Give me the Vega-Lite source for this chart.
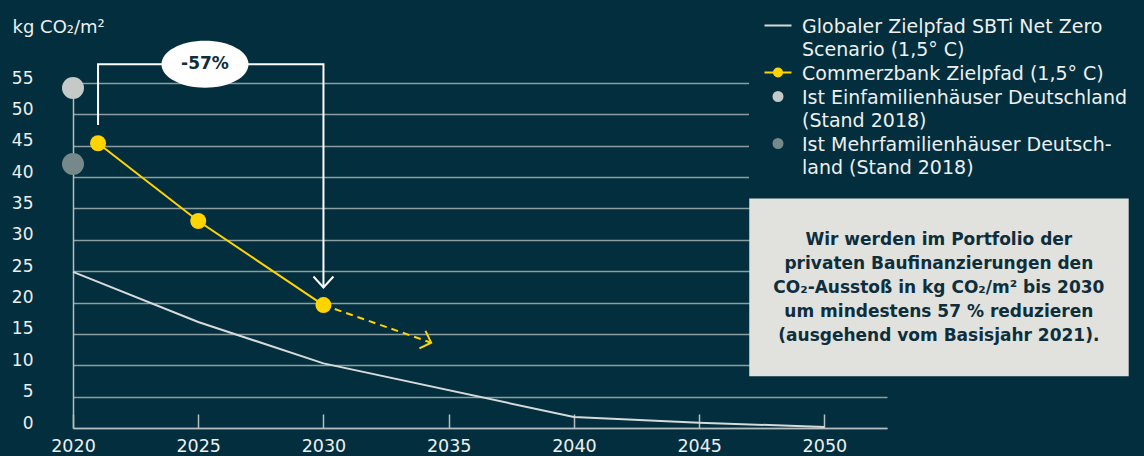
{
  "$schema": "https://vega.github.io/schema/vega-lite/v6.json",
  "width": 814,
  "height": 345,
  "autosize": {"type": "none"},
  "padding": {"left": 73, "top": 83, "right": 257, "bottom": 28},
  "background": "#022e3d",
  "config": {"font": "DejaVu Sans", "view": {"stroke": null}},
  "encoding": {
    "x": {
      "field": "year", "type": "quantitative",
      "scale": {"domain": [2020, 2052.5], "nice": false, "zero": false},
      "axis": {
        "title": null, "values": [2020, 2025, 2030, 2035, 2040, 2045, 2050], "format": "d",
        "grid": false, "domainColor": "#b5bec0", "domainWidth": 1.5,
        "tickColor": "#b5bec0", "tickSize": -14, "tickWidth": 1.5,
        "labelFont": "DejaVu Sans", "labelFontSize": 17.5, "labelColor": "#eef0f0", "labelPadding": 23,
        "labelFlush": false, "labelOverlap": false
      }
    },
    "y": {
      "field": "value", "type": "quantitative",
      "scale": {"domain": [0, 55], "nice": false, "zero": true},
      "axis": {
        "title": "kg CO₂/m²", "values": [0, 5, 10, 15, 20, 25, 30, 35, 40, 45, 50, 55],
        "grid": true, "gridColor": "#8d9ea2", "gridWidth": 1.5, "ticks": false,
        "domainColor": "#b5bec0", "domainWidth": 1.5,
        "labelFont": "DejaVu Sans", "labelBaseline": "alphabetic", "labelAlign": "right", "labelPadding": 40,
        "labelFontSize": 17, "labelColor": "#eef0f0", "labelFlush": false, "labelOverlap": false,
        "titleAngle": 0, "titleAlign": "left", "titleBaseline": "alphabetic",
        "titleX": -61, "titleY": -51, "titleFont": "DejaVu Sans", "titleFontSize": 18, "titleFontWeight": "normal",
        "titleColor": "#eef0f0"
      }
    }
  },
  "layer": [
    {
      "data": {"values": [
        {"serie": "Globaler Zielpfad SBTi Net Zero|Scenario (1,5° C)", "year": 2020, "value": 24.9},
        {"serie": "Globaler Zielpfad SBTi Net Zero|Scenario (1,5° C)", "year": 2025, "value": 16.9},
        {"serie": "Globaler Zielpfad SBTi Net Zero|Scenario (1,5° C)", "year": 2030, "value": 10.3},
        {"serie": "Globaler Zielpfad SBTi Net Zero|Scenario (1,5° C)", "year": 2040, "value": 1.75},
        {"serie": "Globaler Zielpfad SBTi Net Zero|Scenario (1,5° C)", "year": 2045, "value": 0.85},
        {"serie": "Globaler Zielpfad SBTi Net Zero|Scenario (1,5° C)", "year": 2050, "value": 0.15}
      ]},
      "mark": {"type": "line", "strokeWidth": 2},
      "encoding": {
        "color": {
          "field": "serie", "type": "nominal",
          "scale": {
            "domain": [
              "Globaler Zielpfad SBTi Net Zero|Scenario (1,5° C)",
              "Commerzbank Zielpfad (1,5° C)",
              "Ist Einfamilienhäuser Deutschland|(Stand 2018)",
              "Ist Mehrfamilienhäuser Deutsch-|land (Stand 2018)"
            ],
            "range": ["#d6dadb", "#ffd400", "#c5cac9", "#76898a"]
          },
          "legend": {
            "orient": "none", "legendX": 676, "legendY": -78,
            "title": null, "fillColor": "#022e3d", "padding": 11,
            "labelFont": "DejaVu Sans", "labelFontSize": 19, "labelColor": "#eef0f0",
            "labelLimit": 600, "labelExpr": "split(datum.label, '|')",
            "labelBaseline": "top", "labelOffset": 23,
            "symbolSize": 100, "rowPadding": 3,
            "encode": {
              "symbols": {"update": {
                "shape": {"signal": "indexof(datum.value,'Globaler')==0 ? 'M-1,0L4.4,0' : indexof(datum.value,'Commerz')==0 ? 'M-1,0L4.4,0M0.9,0A0.8,0.8,0,1,0,2.5,0A0.8,0.8,0,1,0,0.9,0Z' : 'M0.8,0A0.9,0.9,0,1,0,2.6,0A0.9,0.9,0,1,0,0.8,0Z'"},
                "fill": {"signal": "indexof(datum.value,'Globaler')==0 ? 'transparent' : indexof(datum.value,'Commerz')==0 ? '#ffd400' : indexof(datum.value,'Ist Ein')==0 ? '#c5cac9' : '#76898a'"},
                "stroke": {"signal": "indexof(datum.value,'Globaler')==0 ? '#d6dadb' : indexof(datum.value,'Commerz')==0 ? '#ffd400' : 'transparent'"},
                "strokeWidth": {"value": 2},
                "opacity": {"value": 1}
              }},
              "labels": {"update": {"dy": {"value": -8}, "lineHeight": {"value": 23.5}}}
            }
          }
        }
      }
    },
    {
      "data": {"values": [
        {"serie": "Commerzbank Zielpfad (1,5° C)", "year": 2021, "value": 45.4},
        {"serie": "Commerzbank Zielpfad (1,5° C)", "year": 2025, "value": 33.0},
        {"serie": "Commerzbank Zielpfad (1,5° C)", "year": 2030, "value": 19.6}
      ]},
      "mark": {"type": "line", "strokeWidth": 2},
      "encoding": {"color": {"field": "serie", "type": "nominal"}}
    },
    {
      "data": {"values": [
        {"year": 2030, "value": 19.6},
        {"year": 2034.3, "value": 13.6}
      ]},
      "mark": {"type": "line", "strokeWidth": 2, "color": "#ffd400", "strokeDash": [7, 5]},
      "encoding": {}
    },
    {
      "data": {"values": [{"year": 2034.3, "value": 13.6}]},
      "mark": {"type": "point", "shape": "M-1,-1L0,0L-1,1", "size": 340, "filled": false, "stroke": "#ffd400", "strokeWidth": 2, "opacity": 1, "angle": 19.4},
      "encoding": {}
    },
    {
      "data": {"values": [
        {"serie": "Commerzbank Zielpfad (1,5° C)", "year": 2021, "value": 45.4},
        {"serie": "Commerzbank Zielpfad (1,5° C)", "year": 2025, "value": 33.0},
        {"serie": "Commerzbank Zielpfad (1,5° C)", "year": 2030, "value": 19.6}
      ]},
      "mark": {"type": "point", "filled": true, "size": 256, "opacity": 1, "shape": "circle"},
      "encoding": {"color": {"field": "serie", "type": "nominal"}}
    },
    {
      "data": {"values": [
        {"serie": "Ist Einfamilienhäuser Deutschland|(Stand 2018)", "year": 2020, "value": 54.2},
        {"serie": "Ist Mehrfamilienhäuser Deutsch-|land (Stand 2018)", "year": 2020, "value": 42.1}
      ]},
      "mark": {"type": "point", "filled": true, "size": 484, "opacity": 1, "shape": "circle"},
      "encoding": {"color": {"field": "serie", "type": "nominal"}}
    },
    {
      "data": {"values": [
        {"step": 1, "year": 2021, "value": 48.3},
        {"step": 2, "year": 2021, "value": 58},
        {"step": 3, "year": 2030, "value": 58},
        {"step": 4, "year": 2030, "value": 22.45}
      ]},
      "mark": {"type": "line", "strokeWidth": 2, "color": "#ffffff", "clip": false},
      "encoding": {"order": {"field": "step", "type": "quantitative"}}
    },
    {
      "data": {"values": [{"year": 2030, "value": 22.4}]},
      "mark": {"type": "point", "shape": "M-1,-1.1L0,0L1,-1.1", "size": 400, "filled": false, "stroke": "#ffffff", "strokeWidth": 2, "opacity": 1},
      "encoding": {}
    },
    {
      "data": {"values": [{"year": 2025.27, "value": 58, "label": "-57%"}]},
      "layer": [
        {
          "mark": {"type": "point", "shape": "M-1,0A1,0.54,0,1,0,1,0A1,0.54,0,1,0,-1,0Z", "size": 7569, "filled": true, "fill": "#ffffff", "opacity": 1, "clip": false},
          "encoding": {}
        },
        {
          "mark": {"type": "text", "font": "DejaVu Sans", "fontSize": 17, "fontWeight": "bold", "color": "#0e2e3c", "align": "center", "baseline": "middle", "clip": false},
          "encoding": {"text": {"field": "label"}}
        }
      ]
    },
    {
      "data": {"values": [{"year": 2047.0, "year2": 2062.15, "value": 8.24, "value2": 36.6}]},
      "mark": {"type": "rect", "fill": "#e1e1dd", "clip": false},
      "encoding": {"x2": {"field": "year2"}, "y2": {"field": "value2"}}
    },
    {
      "data": {"values": [{"year": 2054.57, "value": 29.9, "text": ["Wir werden im Portfolio der", "privaten Baufinanzierungen den", "CO₂-Ausstoß in kg CO₂/m² bis 2030", "um mindestens 57 % reduzieren", "(ausgehend vom Basisjahr 2021)."]}]},
      "mark": {"type": "text", "font": "DejaVu Sans", "fontSize": 17, "fontWeight": "bold", "color": "#0e2e3c", "align": "center", "baseline": "middle", "lineHeight": 24, "clip": false},
      "encoding": {"text": {"field": "text"}}
    }
  ]
}
